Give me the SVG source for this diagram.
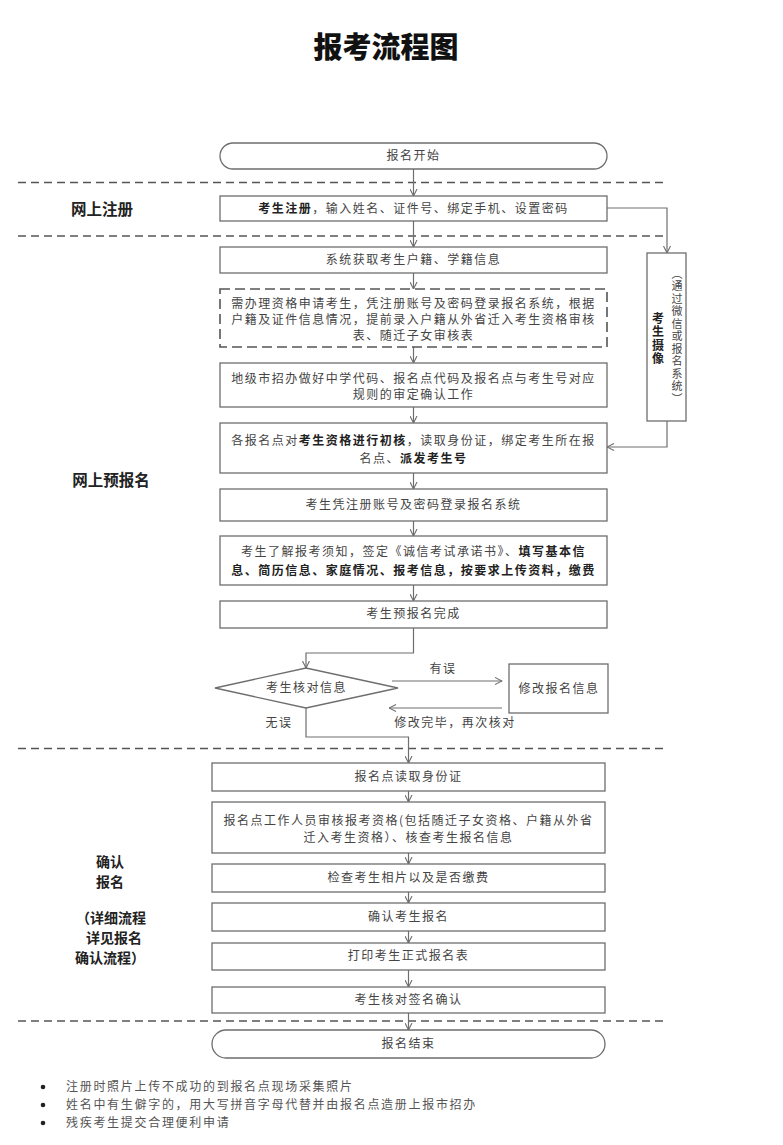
<svg xmlns="http://www.w3.org/2000/svg" width="783" height="1145" viewBox="0 0 783 1145">
<style>
.bg{fill:#fff}
.box{fill:#fff;stroke:#6e6e6e;stroke-width:1.3}
.dbox{fill:#fff;stroke:#555;stroke-width:1.6;stroke-dasharray:10 5}
.sep{stroke:#555;stroke-width:1.6;stroke-dasharray:8 5;fill:none}
.con{fill:none;stroke:#6e6e6e;stroke-width:1.2}
.t{font-family:"Noto Sans CJK SC","Noto Sans CJK JP",sans-serif;font-size:12px;fill:#444;letter-spacing:1.5px;text-anchor:middle}
.b{font-weight:bold;fill:#222}
.lab{font-family:"Noto Sans CJK SC","Noto Sans CJK JP",sans-serif;font-size:15.5px;font-weight:bold;fill:#222;text-anchor:middle}
.lab2{font-family:"Noto Sans CJK SC","Noto Sans CJK JP",sans-serif;font-size:14px;font-weight:bold;fill:#222;text-anchor:middle}
.title{font-family:"Noto Sans CJK SC","Noto Sans CJK JP",sans-serif;font-size:29px;font-weight:900;fill:#111;text-anchor:middle}
.note{font-family:"Noto Sans CJK SC","Noto Sans CJK JP",sans-serif;font-size:12px;fill:#555;letter-spacing:1.7px}
</style>
<defs>
<marker id="arr" viewBox="0 0 8 8" refX="7.5" refY="4" markerWidth="8" markerHeight="8" markerUnits="userSpaceOnUse" orient="auto">
<path d="M0.5,0.5 L7.5,4 L0.5,7.5" fill="none" stroke="#6e6e6e" stroke-width="1.1"/>
</marker>
</defs>
<rect class="bg" x="0" y="0" width="783" height="1145"/>

<text class="title" x="386" y="58">报考流程图</text>

<g id="separators">
<line class="sep" x1="18" y1="182.5" x2="666" y2="182.5"/>
<line class="sep" x1="18" y1="236" x2="666" y2="236"/>
<line class="sep" x1="18" y1="748.5" x2="666" y2="748.5"/>
<line class="sep" x1="18" y1="1021" x2="666" y2="1021"/>
</g>

<g id="section-labels">
<text class="lab" x="102" y="215">网上注册</text>
<text class="lab" x="111" y="486">网上预报名</text>
<text class="lab2" x="110" y="867">确认</text>
<text class="lab2" x="110" y="887">报名</text>
<text class="lab2" x="111" y="923">（详细流程</text>
<text class="lab2" x="114" y="943">详见报名</text>
<text class="lab2" x="110" y="963">确认流程）</text>
</g>

<g id="connectors">
<line class="con" x1="413.5" y1="169" x2="413.5" y2="196" marker-end="url(#arr)"/>
<line class="con" x1="413.5" y1="221" x2="413.5" y2="247" marker-end="url(#arr)"/>
<path class="con" d="M607,208 H667 V253" marker-end="url(#arr)"/>
<path class="con" d="M667,421 V447 H607" marker-end="url(#arr)"/>
<line class="con" x1="413.5" y1="273" x2="413.5" y2="289" marker-end="url(#arr)"/>
<line class="con" x1="413.5" y1="347" x2="413.5" y2="363" marker-end="url(#arr)"/>
<line class="con" x1="413.5" y1="407" x2="413.5" y2="423" marker-end="url(#arr)"/>
<line class="con" x1="413.5" y1="473" x2="413.5" y2="489" marker-end="url(#arr)"/>
<line class="con" x1="413.5" y1="521" x2="413.5" y2="536" marker-end="url(#arr)"/>
<line class="con" x1="413.5" y1="585" x2="413.5" y2="601" marker-end="url(#arr)"/>
<path class="con" d="M413.5,628 V653 H306 V668" marker-end="url(#arr)"/>
<line class="con" x1="392" y1="681" x2="502" y2="681" marker-end="url(#arr)"/>
<line class="con" x1="502" y1="708" x2="389" y2="708" marker-end="url(#arr)"/>
<path class="con" d="M306,708 V737 H408.5 V763" marker-end="url(#arr)"/>
<line class="con" x1="408.5" y1="791" x2="408.5" y2="802" marker-end="url(#arr)"/>
<line class="con" x1="408.5" y1="853" x2="408.5" y2="864" marker-end="url(#arr)"/>
<line class="con" x1="408.5" y1="892" x2="408.5" y2="903" marker-end="url(#arr)"/>
<line class="con" x1="408.5" y1="931" x2="408.5" y2="943" marker-end="url(#arr)"/>
<line class="con" x1="408.5" y1="970" x2="408.5" y2="987" marker-end="url(#arr)"/>
<line class="con" x1="408.5" y1="1013" x2="408.5" y2="1030" marker-end="url(#arr)"/>
<text class="t" x="443" y="673">有误</text>
<text class="t" x="455" y="727">修改完毕，再次核对</text>
<text class="t" x="279" y="727">无误</text>
</g>

<g id="start">
<rect class="box" x="220" y="143" width="387" height="26" rx="13"/>
<text class="t" x="413.5" y="160">报名开始</text>
</g>

<g id="register">
<rect class="box" x="220" y="196" width="387" height="25"/>
<text class="t" x="413.5" y="213"><tspan class="b">考生注册</tspan>，输入姓名、证件号、绑定手机、设置密码</text>
</g>

<g id="photo">
<rect class="box" x="647" y="253" width="39" height="168"/>
<text class="t" x="677" y="268" style="writing-mode:vertical-rl;text-anchor:start;font-size:11px">（通过微信或报名系统）</text>
<text class="t b" x="658" y="312" style="writing-mode:vertical-rl;text-anchor:start">考生摄像</text>
</g>

<g id="fetch-info">
<rect class="box" x="220" y="247" width="387" height="26"/>
<text class="t" x="413.5" y="264">系统获取考生户籍、学籍信息</text>
</g>

<g id="qualification-apply">
<rect class="dbox" x="220" y="289" width="387" height="58"/>
<text class="t" x="413.5" y="308">需办理资格申请考生，凭注册账号及密码登录报名系统，根据</text>
<text class="t" x="413.5" y="324">户籍及证件信息情况，提前录入户籍从外省迁入考生资格审核</text>
<text class="t" x="413.5" y="340">表、随迁子女审核表</text>
</g>

<g id="city-confirm">
<rect class="box" x="220" y="363" width="387" height="44"/>
<text class="t" x="413.5" y="383">地级市招办做好中学代码、报名点代码及报名点与考生号对应</text>
<text class="t" x="413.5" y="399">规则的审定确认工作</text>
</g>

<g id="initial-check">
<rect class="box" x="220" y="423" width="387" height="50"/>
<text class="t" x="413.5" y="445">各报名点对<tspan class="b">考生资格进行初核</tspan>，读取身份证，绑定考生所在报</text>
<text class="t" x="413.5" y="463">名点、<tspan class="b">派发考生号</tspan></text>
</g>

<g id="login">
<rect class="box" x="220" y="489" width="387" height="32"/>
<text class="t" x="413.5" y="509">考生凭注册账号及密码登录报名系统</text>
</g>

<g id="fill-info">
<rect class="box" x="220" y="536" width="387" height="49"/>
<text class="t" x="413.5" y="556">考生了解报考须知，签定《诚信考试承诺书》、<tspan class="b">填写基本信</tspan></text>
<text class="t b" x="413.5" y="575">息、简历信息、家庭情况、报考信息，按要求上传资料，缴费</text>
</g>

<g id="pre-done">
<rect class="box" x="220" y="601" width="387" height="27"/>
<text class="t" x="413.5" y="618">考生预报名完成</text>
</g>

<g id="check-info">
<polygon class="box" points="215,688 306,668 398,688 306,708"/>
<text class="t" x="306.5" y="692">考生核对信息</text>
</g>

<g id="modify">
<rect class="box" x="509" y="664" width="99" height="49"/>
<text class="t" x="559" y="693">修改报名信息</text>
</g>

<g id="read-id">
<rect class="box" x="212" y="763" width="393" height="28"/>
<text class="t" x="408.5" y="781">报名点读取身份证</text>
</g>

<g id="staff-review">
<rect class="box" x="212" y="802" width="393" height="51"/>
<text class="t" x="408.5" y="825">报名点工作人员审核报考资格(包括随迁子女资格、户籍从外省</text>
<text class="t" x="408.5" y="842">迁入考生资格）、核查考生报名信息</text>
</g>

<g id="check-photo">
<rect class="box" x="212" y="864" width="393" height="28"/>
<text class="t" x="408.5" y="882">检查考生相片以及是否缴费</text>
</g>

<g id="confirm">
<rect class="box" x="212" y="903" width="393" height="28"/>
<text class="t" x="408.5" y="921">确认考生报名</text>
</g>

<g id="print">
<rect class="box" x="212" y="943" width="393" height="27"/>
<text class="t" x="408.5" y="960">打印考生正式报名表</text>
</g>

<g id="sign">
<rect class="box" x="212" y="987" width="393" height="26"/>
<text class="t" x="408.5" y="1004">考生核对签名确认</text>
</g>

<g id="end">
<rect class="box" x="212" y="1030" width="393" height="28" rx="14"/>
<text class="t" x="408.5" y="1048">报名结束</text>
</g>

<g id="notes">
<circle cx="43" cy="1087" r="2.3" fill="#222"/>
<circle cx="43" cy="1105" r="2.3" fill="#222"/>
<circle cx="43" cy="1123" r="2.3" fill="#222"/>
<text class="note" x="66" y="1091">注册时照片上传不成功的到报名点现场采集照片</text>
<text class="note" x="66" y="1109">姓名中有生僻字的，用大写拼音字母代替并由报名点造册上报市招办</text>
<text class="note" x="66" y="1127">残疾考生提交合理便利申请</text>
</g>
</svg>
